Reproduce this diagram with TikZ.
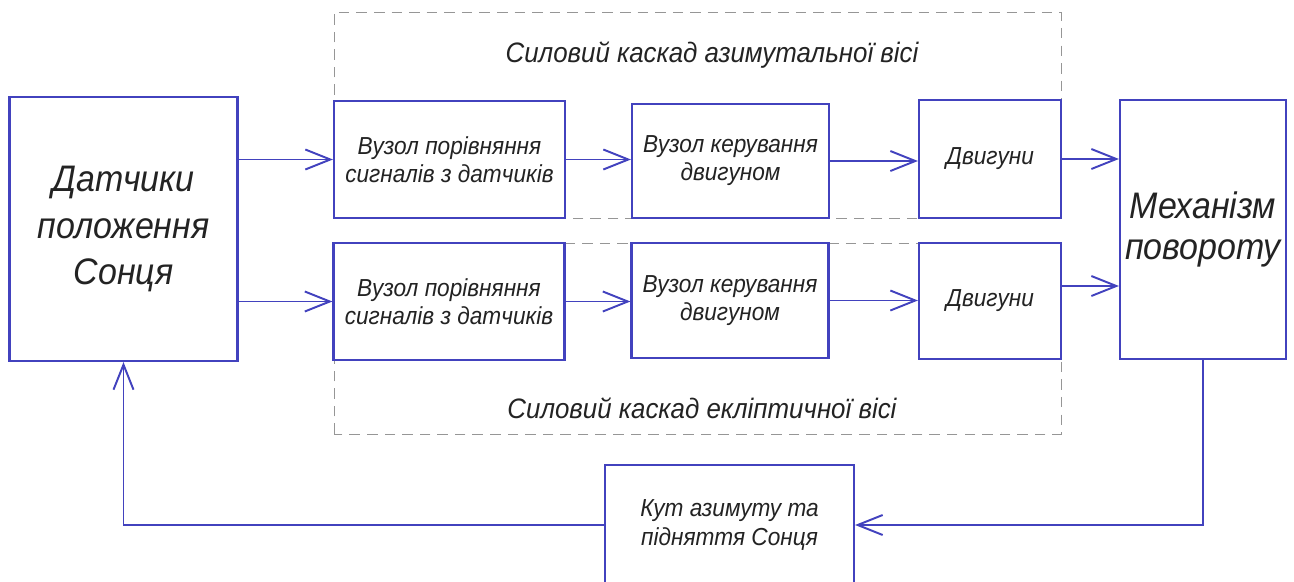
\documentclass[tikz,border=0pt]{standalone}
\usepackage{fontspec}
\usepackage{xcolor}
\usepackage{tikz}
\usetikzlibrary{arrows.meta, positioning, calc}
\newfontfamily\gostfont{Liberation Sans}[FakeStretch=0.92]
\definecolor{myblue}{RGB}{66,66,190}
\definecolor{mytext}{RGB}{35,35,35}
\definecolor{mygray}{RGB}{150,150,150}
\tikzset{
  block/.style={rectangle, draw=myblue, fill=white, align=center,
    inner sep=0pt, line width=1.2pt, text=mytext,
    font=\gostfont\itshape\fontsize{14}{16}\selectfont},
  bigblock/.style={block, font=\gostfont\itshape\fontsize{21}{26.5}\selectfont},
  frame/.style={dashed, dash pattern=on 6pt off 4pt, thin, color=mygray},
  grouplabel/.style={text=mytext, font=\gostfont\itshape\fontsize{16}{18}\selectfont},
  arrow/.style={-{Straight Barb[length=5mm, width=4mm]}, line width=1.1pt, color=myblue},
  line/.style={line width=1.1pt, color=myblue}
}

\begin{document}
\begin{tikzpicture}[scale=1.0]
  \useasboundingbox (0,0) rectangle (25.88,11.62);
  % dashed groups
  \draw[frame] (6.68,7.26) rectangle (21.22,11.38);
  \draw[frame] (6.68,2.94) rectangle (21.22,6.76);
  \node[grouplabel] (azlbl) at (14.24,10.52) {Силовий каскад азимутальної вісі};
  \node[grouplabel] (ecllbl) at (14.04,3.46) {Силовий каскад екліптичної вісі};
  % blocks
  \node[bigblock, minimum width=4.56cm, minimum height=5.28cm] (sens) at (2.47,7.04) {Датчики\\положення\\Сонця};
  \node[block, minimum width=4.62cm, minimum height=2.34cm] (cmp1) at (8.99,8.43) {Вузол порівняння\\сигналів з датчиків};
  \node[block, minimum width=3.94cm, minimum height=2.28cm] (ctl1) at (14.61,8.40) {Вузол керування\\двигуном};
  \node[block, minimum width=2.84cm, minimum height=2.36cm] (mot1) at (19.80,8.44) {Двигуни};
  \node[block, minimum width=4.62cm, minimum height=2.34cm] (cmp2) at (8.98,5.59) {Вузол порівняння\\сигналів з датчиків};
  \node[block, minimum width=3.94cm, minimum height=2.30cm] (ctl2) at (14.60,5.61) {Вузол керування\\двигуном};
  \node[block, minimum width=2.84cm, minimum height=2.32cm] (mot2) at (19.80,5.60) {Двигуни};
  \node[bigblock, minimum width=3.32cm, minimum height=5.18cm] (mech) at (24.06,7.03) {\raisebox{-0.15cm}{\begin{tabular}{@{}c@{}}Механізм\\[-0.1cm]повороту\end{tabular}}};
  \node[block, minimum width=4.98cm, minimum height=2.40cm] (angle) at (14.59,1.12) {Кут азимуту та\\підняття Сонця};
  % forward paths
  \draw[arrow] (sens.east |- cmp1.west) -- (cmp1.west);
  \draw[arrow] (sens.east |- cmp2.west) -- (cmp2.west);
  \draw[arrow] (cmp1.east) -- (ctl1.west |- cmp1.east);
  \draw[arrow] (ctl1.east) -- (mot1.west |- ctl1.east);
  \draw[arrow] (mot1.east) -- (mech.west |- mot1.east);
  \draw[arrow] (cmp2.east) -- (ctl2.west |- cmp2.east);
  \draw[arrow] (ctl2.east) -- (mot2.west |- ctl2.east);
  \coordinate (m2out) at ($(mot2.east)+(0,0.3)$);
  \draw[arrow] (m2out) -- (m2out -| mech.west);
  % feedback
  \draw[arrow] (mech.south) |- (angle.east);
  \draw[arrow] (angle.west) -| (sens.south);
\end{tikzpicture}
\end{document}
